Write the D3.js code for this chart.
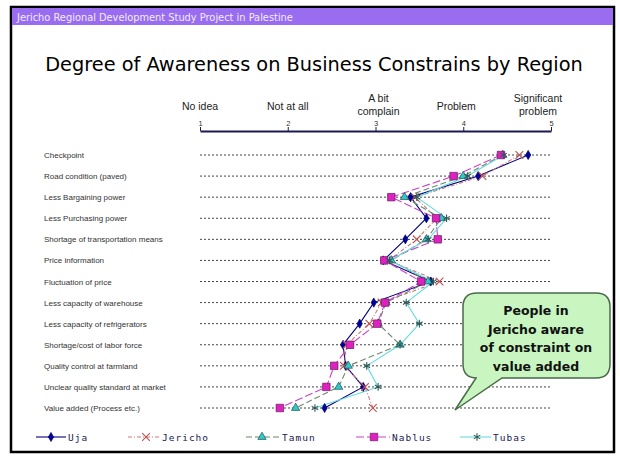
<!DOCTYPE html>
<html><head><meta charset="utf-8">
<script src="https://cdn.jsdelivr.net/npm/d3@7"></script>
<style>body{margin:0;background:#fff}svg{display:block}</style>
</head><body>
<svg id="c" width="620" height="459"></svg>
<script>
const categories = ["Checkpoint","Road condition (paved)","Less Bargaining power","Less Purchasing power","Shortage of transportation means","Price information","Fluctuation of price","Less capacity of warehouse","Less capacity of refrigerators","Shortage/cost of labor force","Quality control at farmland","Unclear quality standard at market","Value added (Process etc.)"];
const scaleTicks = [1,2,3,4,5];
const scaleLabels = [["No idea"],["Not at all"],["A bit","complain"],["Problem"],["Significant","problem"]];
const seriesNames = ["Uja","Jericho","Tamun","Nablus","Tubas"];
const uja     = [4.74,4.17,3.40,3.58,3.34,3.09,3.63,2.98,2.82,2.63,2.66,2.86,2.42];
const jericho = [4.64,4.22,3.45,3.70,3.47,3.15,3.73,3.07,2.93,2.67,2.64,2.88,2.97];
const tamun   = [4.45,4.00,3.33,3.75,3.58,3.18,3.60,3.12,3.03,3.28,2.69,2.58,2.09];
const nablus  = [4.43,3.89,3.18,3.69,3.71,3.10,3.52,3.11,3.02,2.71,2.53,2.44,1.91];
const tubas   = [4.46,4.05,3.47,3.81,3.60,3.16,3.66,3.35,3.50,3.28,2.90,3.03,2.31];
const headerText = "Jericho Regional Development Study Project in Palestine";
const titleText = "Degree of Awareness on Business Constrains by Region";
const calloutLines = ["People in","Jericho aware","of constraint on","value added"];

const seriesData = [uja,jericho,tamun,nablus,tubas];
const styles = [
  {line:"#000080", dash:null, sym:d3.symbolDiamond, size:24, fill:"#0000a0", stroke:"#000060", lx:36, mx:51, tx:68},
  {line:"#cc7a7a", dash:"4,2,1,2", sym:d3.symbolTimes, size:40, fill:"none", stroke:"#c05050", lx:128, mx:146, tx:162},
  {line:"#6b8a6b", dash:"6,3", sym:d3.symbolTriangle, size:30, fill:"#30c8c8", stroke:"#205050", lx:246, mx:262, tx:282},
  {line:"#d040c8", dash:"8,3", sym:d3.symbolSquare, size:56, fill:"#e020c0", stroke:"#602060", lx:356, mx:374, tx:392},
  {line:"#66dcdc", dash:null, sym:d3.symbolAsterisk, size:40, fill:"none", stroke:"#305858", lx:460, mx:477, tx:493}
];

const svg = d3.select("#c");
function fit(sel, w){ const n=sel.node(); const cur=n.getComputedTextLength(); const fs=parseFloat(sel.attr("font-size")); sel.attr("font-size", fs*w/cur); }

// frame + header
svg.append("rect").attr("x",11).attr("y",7).attr("width",603).attr("height",445).attr("fill","#fff").attr("stroke","#000").attr("stroke-width",2.5);
svg.append("rect").attr("x",12).attr("y",8).attr("width",601).attr("height",17).attr("fill","#9a6cf0");
const ht = svg.append("text").attr("x",17).attr("y",20.5).attr("font-family","DejaVu Sans").attr("font-size",11).attr("fill","#f2ecff").text(headerText);
fit(ht,276);

const tt = svg.append("text").attr("x",314).attr("y",71).attr("text-anchor","middle").attr("font-family","DejaVu Sans").attr("font-size",22).attr("fill","#000").text(titleText);
fit(tt,538);

const x = d3.scaleLinear().domain([1,5]).range([200,551]);
const y = d3.scalePoint().domain(categories).range([155,408]);

// top axis
const ax = svg.append("g").attr("transform","translate(0,131)")
  .call(d3.axisTop(x).tickValues(scaleTicks).tickFormat(d3.format("d")).tickSize(4).tickSizeOuter(0).tickPadding(1));
ax.select(".domain").attr("stroke","#1a1a50").attr("stroke-width",2);
ax.selectAll(".tick line").attr("stroke","#1a1a50");
ax.selectAll(".tick text").attr("font-size",7.5).attr("font-family","Liberation Sans").attr("fill","#333");

const dxs = [0,0,3,-7,-13];
scaleLabels.forEach((lines,i)=>{
  const t = svg.append("text").attr("text-anchor","middle").attr("font-family","Liberation Sans").attr("font-size",10.5).attr("fill","#222");
  const y0 = lines.length===1 ? 110 : 102;
  lines.forEach((l,j)=> t.append("tspan").attr("x",x(scaleTicks[i])+dxs[i]).attr("y",y0+j*13).text(l));
});

// grid rows
svg.append("g").selectAll("line").data(categories).join("line")
  .attr("x1",x(1)).attr("x2",x(5)).attr("y1",d=>y(d)).attr("y2",d=>y(d))
  .attr("stroke","#444").attr("stroke-width",1).attr("stroke-dasharray","2,2");
svg.append("g").selectAll("text").data(categories).join("text")
  .attr("x",44).attr("y",d=>y(d)+3).attr("font-family","Liberation Sans").attr("font-size",8).attr("fill","#333").text(d=>d);

// series
const line = d3.line().x(d=>x(d.v)).y(d=>y(d.c));
seriesData.forEach((vals,si)=>{
  const st = styles[si];
  const pts = vals.map((v,i)=>({v,c:categories[i]}));
  svg.append("path").datum(pts).attr("d",line).attr("fill","none").attr("stroke",st.line).attr("stroke-width",1.1)
    .attr("stroke-dasharray",st.dash);
});
seriesData.forEach((vals,si)=>{
  const st = styles[si];
  const pts = vals.map((v,i)=>({v,c:categories[i]}));
  svg.append("g").selectAll("path").data(pts).join("path")
    .attr("transform",d=>`translate(${x(d.v)},${y(d.c)})`)
    .attr("d",d3.symbol().type(st.sym).size(st.size))
    .attr("fill",st.fill).attr("stroke",st.stroke).attr("stroke-width",st.fill==="none"?1.1:0.7);
});

// legend
const ly = 437;
seriesNames.forEach((n,si)=>{
  const st = styles[si];
  svg.append("line").attr("x1",st.lx).attr("x2",st.tx-2).attr("y1",ly).attr("y2",ly)
    .attr("stroke",st.line).attr("stroke-width",1.1).attr("stroke-dasharray",st.dash);
  svg.append("path").attr("transform",`translate(${st.mx},${ly})`).attr("d",d3.symbol().type(st.sym).size(st.size))
    .attr("fill",st.fill).attr("stroke",st.stroke).attr("stroke-width",st.fill==="none"?1.1:0.7);
  svg.append("text").attr("x",st.tx).attr("y",ly+4).attr("font-family","DejaVu Sans Mono").attr("font-size",9.5)
    .attr("letter-spacing",1).attr("fill","#202050").text(n);
});

// callout bubble
const bx0=463,bx1=610,by0=293,by1=378,r=14;
const p = d3.path();
p.moveTo(bx0+r,by0); p.lineTo(bx1-r,by0); p.quadraticCurveTo(bx1,by0,bx1,by0+r);
p.lineTo(bx1,by1-r); p.quadraticCurveTo(bx1,by1,bx1-r,by1);
p.lineTo(502,by1); p.lineTo(455,410); p.lineTo(476,by1);
p.lineTo(bx0+r,by1); p.quadraticCurveTo(bx0,by1,bx0,by1-r);
p.lineTo(bx0,by0+r); p.quadraticCurveTo(bx0,by0,bx0+r,by0); p.closePath();
svg.append("path").attr("d",p.toString()).attr("fill","#c8f5c0").attr("stroke","#4a6a4a").attr("stroke-width",1.5);
const ct = svg.append("text").attr("text-anchor","middle").attr("font-family","DejaVu Sans").attr("font-weight","bold").attr("font-size",12.5).attr("fill","#111");
calloutLines.forEach((l,i)=> ct.append("tspan").attr("x",536).attr("y",315+i*18.5).text(l));
</script>
</body></html>
